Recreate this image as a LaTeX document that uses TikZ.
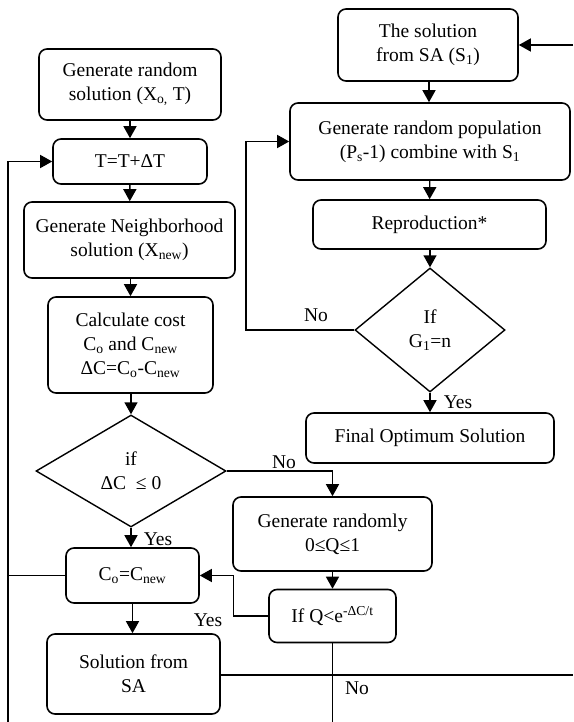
\documentclass[tikz,border=0pt]{standalone}
\usepackage{fontspec}
\setmainfont{Liberation Serif}
\usetikzlibrary{shapes.geometric,arrows.meta}
\begin{document}
\begin{tikzpicture}[x=1pt,y=-1pt,
  txt/.style={font=\fontsize{19.5}{24}\selectfont},
  box/.style={txt,draw,rounded corners=8pt,line width=1.6pt,align=center,inner sep=0pt},
  dia/.style={txt,draw,diamond,line width=1.4pt,align=center,inner sep=0pt},
  arr/.style={line width=1.4pt,-{Triangle[length=12pt,width=13pt]}},
  ln/.style={line width=1.4pt},
  lbl/.style={txt,inner sep=0pt}]
\useasboundingbox (0,0) rectangle (573,722);
% left column
\node[box,minimum width=182pt,minimum height=71pt] (b1) at (130,84.5) {Generate random\\solution (X\textsubscript{o,} T)};
\node[box,minimum width=154pt,minimum height=45pt] (b2) at (130,161.5) {T=T+ΔT};
\node[box,minimum width=211pt,minimum height=76pt] (b3) at (129.5,240) {Generate Neighborhood\\solution (X\textsubscript{new})};
\node[box,minimum width=165pt,minimum height=96pt] (b4) at (130.5,345) {Calculate cost\\C\textsubscript{o} and C\textsubscript{new}\\ΔC=C\textsubscript{o}-C\textsubscript{new}};
\node[dia,minimum width=190pt,minimum height=112pt] (d1) at (131,471) {if\\ΔC\ \ ≤ 0};
\node[box,minimum width=133pt,minimum height=55pt] (c1) at (132.5,575.5) {C\textsubscript{o}=C\textsubscript{new}};
\node[box,minimum width=173pt,minimum height=80pt] (s1) at (133.5,674) {Solution from\\SA};
% middle column
\node[box,minimum width=199pt,minimum height=74pt] (g1) at (332.5,534) {Generate randomly\\0≤Q≤1};
\node[box,minimum width=127pt,minimum height=53pt] (q1) at (332.5,616) {If Q<e\textsuperscript{-ΔC/t}};
% right column
\node[box,minimum width=180pt,minimum height=72pt] (r1) at (428,45) {The solution\\from SA (S\textsubscript{1})};
\node[box,minimum width=280pt,minimum height=77pt] (r2) at (430,141.5) {Generate random population\\(P\textsubscript{s}-1) combine with S\textsubscript{1}};
\node[box,minimum width=233pt,minimum height=49pt] (r3) at (429.5,224.5) {Reproduction*};
\node[dia,minimum width=150pt,minimum height=124pt] (d2) at (430,330) {If\\G\textsubscript{1}=n};
\node[box,minimum width=248pt,minimum height=50pt] (r4) at (430,438) {Final Optimum Solution};
% free ends
\coordinate (lb) at (8,722);
\coordinate (qb) at (332.5,722);
\coordinate (se) at (573,675);
\coordinate (rin) at (573,45);
% connectors left
\draw[arr] (b1) -- (b2);
\draw[arr] (b2) -- (b3);
\draw[arr] (b3.south -| b4.north) -- (b4.north);
\draw[arr] (b4.south -| d1.north) -- (d1.north);
\draw[arr] (d1.south) -- (d1.south |- c1.north);
\draw[arr] (c1.south) -- (c1.south |- s1.north);
\draw[arr] (lb) |- (b2.west);
\draw[ln] (c1.west) -- (c1.west -| lb);
\draw[ln] (s1.east |- se) -- (se);
% middle
\draw[arr] (d1.east) -| (g1.north);
\draw[arr] (g1) -- (q1);
\draw[arr] (q1.west) -- ++(-35,0) |- (c1.east);
\draw[ln] (q1.south) -- (qb);
% right
\draw[arr] (rin) -- (r1.east);
\draw[arr] (r1.south -| 429,0) -- (r2.north -| 429,0);
\draw[arr] (r2) -- (r3);
\draw[arr] (r3.south -| d2.north) -- (d2.north);
\draw[arr] (d2.south) -- (r4.north);
\draw[arr] (d2.west) -- (246,330) |- (r2.west);
% labels
\node[lbl] (l1) at (158,539) {Yes};
\node[lbl] (l2) at (284,462) {No};
\node[lbl] (l3) at (208,620) {Yes};
\node[lbl] (l4) at (357,688) {No};
\node[lbl] (l5) at (316,315) {No};
\node[lbl] (l6) at (458,402) {Yes};
\end{tikzpicture}
\end{document}
